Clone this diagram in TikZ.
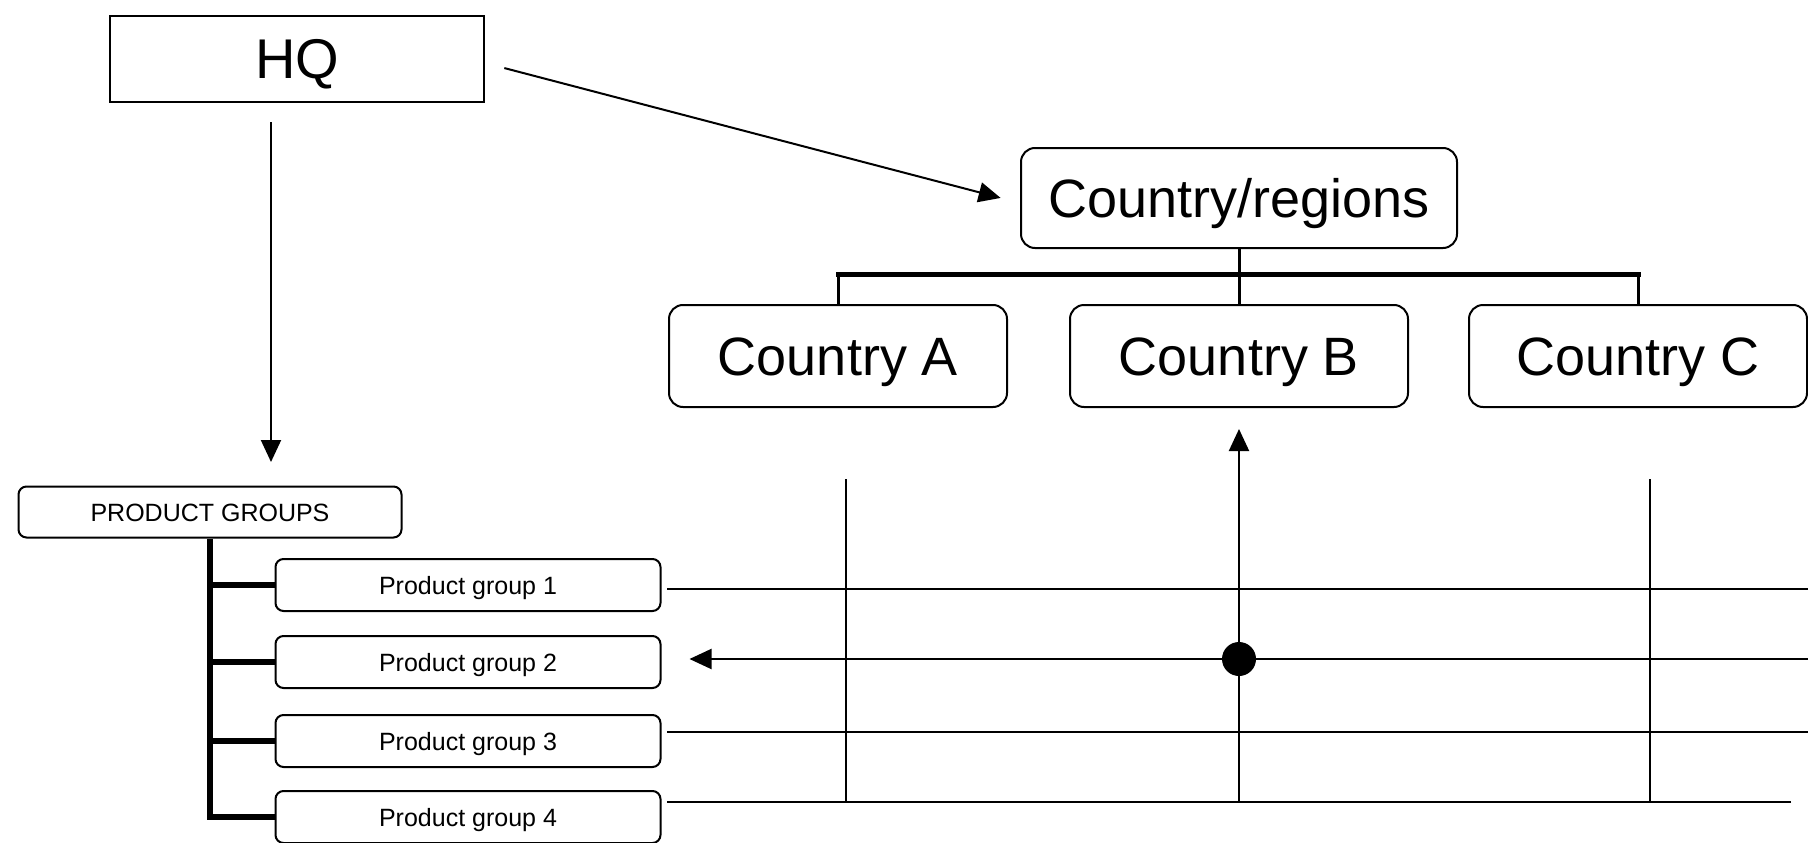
\documentclass[tikz,border=0pt]{standalone}
\usepackage{fontspec}
\setmainfont{Liberation Sans}
\usetikzlibrary{arrows.meta}

\begin{document}
\begin{tikzpicture}[x=1pt, y=-1pt, line width=2pt,
  box/.style={draw, line width=2pt, inner sep=0pt, text depth=0pt},
  cbox/.style={box, rounded corners=14pt, minimum width=338pt, minimum height=102pt, text height=39pt, font=\fontsize{54}{58}\selectfont},
  pbox/.style={box, rounded corners=8pt, minimum width=385pt, minimum height=52pt, text height=18pt, font=\fontsize{25}{28}\selectfont},
  arw/.style={-{Triangle[length=22pt,width=20pt]}},
  branch/.style={line width=6pt}]
  \useasboundingbox (0,0) rectangle (1808,843);
  \node[box, minimum width=374pt, minimum height=86pt, text height=40pt, font=\fontsize{56}{60}\selectfont] (hq) at (297,59) {HQ};
  \node[cbox, minimum width=436pt, minimum height=100pt] (regions) at (1239,198) {Country/regions};
  \node[cbox] (ca) at (838,356) {Country A};
  \node[cbox] (cb) at (1239,356) {Country B};
  \node[cbox] (cc) at (1638,356) {Country C};
  \node[pbox, minimum width=383pt, minimum height=51pt] (groups) at (210,512) {PRODUCT GROUPS};
  \node[pbox] (pg1) at (468,585) {Product group 1};
  \node[pbox] (pg2) at (468,662) {Product group 2};
  \node[pbox] (pg3) at (468,741) {Product group 3};
  \node[pbox] (pg4) at (468,817) {Product group 4};
  % country tree
  \coordinate (bar) at (1239,274);
  \draw[line width=3pt] (regions.south) -- (cb.north);
  \draw[line width=3pt] (ca.north) -- (ca.north |- bar);
  \draw[line width=3pt] (cc.north) -- (cc.north |- bar);
  \draw[line width=5pt, line cap=rect] (ca.north |- bar) -- (cc.north |- bar);
  % product tree
  \draw[branch] (groups.south) |- (pg4.west);
  \foreach \g in {1,2,3}
    \draw[branch] (groups.south |- pg\g.west) -- (pg\g.west);
  % HQ links
  \coordinate (drop) at (271,462);
  \draw[arw, shorten <=19pt] (hq.south -| drop) -- (drop);
  \draw[arw, shorten <=20pt, shorten >=20pt] ([yshift=-4pt]hq.east) -- ([yshift=-5pt]regions.west);
  % matrix
  \coordinate (e1) at (1808,589);
  \coordinate (e2) at (1808,659);
  \coordinate (e3) at (1808,732);
  \coordinate (e4) at (1791,802);
  \draw[shorten >=5pt] (e1) -- (pg1.east |- e1);
  \draw[arw, shorten >=28pt] (e2) -- (pg2.east |- e2);
  \draw[shorten >=5pt] (e3) -- (pg3.east |- e3);
  \draw[shorten >=5pt] (e4) -- (pg4.east |- e4);
  \coordinate (va) at (846,802);
  \coordinate (vc) at (1650,802);
  \draw[shorten >=71pt] (va) -- (ca.south -| va);
  \draw[arw, shorten >=21pt] (cb.south |- e4) -- (cb.south);
  \draw[shorten >=71pt] (vc) -- (cc.south -| vc);
  \node[circle, fill, inner sep=0pt, minimum size=34pt] (hub) at (cb.south |- e2) {};
\end{tikzpicture}
\end{document}
